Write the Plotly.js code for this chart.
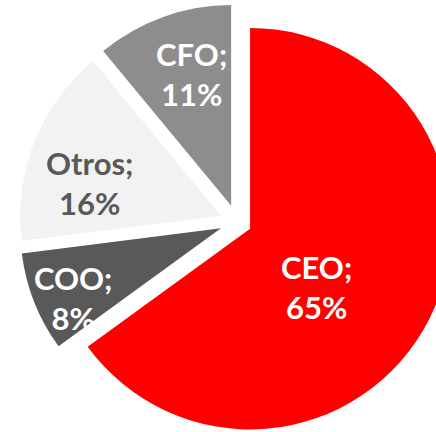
<!DOCTYPE html>
<html>
<head>
<meta charset="utf-8">
<script src="https://cdn.plot.ly/plotly-3.0.1.min.js"></script>
<style>
html, body { margin: 0; padding: 0; width: 436px; height: 432px; overflow: hidden; background: #fff; }
#chart { position: absolute; left: 19px; top: 4px; width: 436px; height: 436px; }
</style>
</head>
<body>
<div id="chart"></div>
<script>
// Data
var labels = ['CEO', 'COO', 'Otros', 'CFO'];
var values = [65, 8, 16, 11];

// Styles
var colors = ['#FF0000', '#595959', '#F2F2F2', '#8D8D8D'];
var textColors = ['#FFFFFF', '#FFFFFF', '#595959', '#FFFFFF'];
var pulls = [0.073, 0.086, 0.086, 0.086];
// label centres in window pixels
var labelPos = [[316, 287], [73, 298], [89, 183], [191, 74]];

var box = {left: 19, top: 4, w: 436, h: 436};
function toPaper(p) {
  return [(p[0] - box.left) / box.w, 1 - (p[1] - box.top) / box.h];
}

var annotations = labels.map(function (lab, i) {
  var p = toPaper(labelPos[i]);
  return {
    xref: 'paper', yref: 'paper', x: p[0], y: p[1],
    xanchor: 'center', yanchor: 'middle', showarrow: false,
    text: lab + ';<br>' + values[i] + '%',
    font: {family: 'Lato, "Open Sans", sans-serif', size: 31, color: textColors[i], weight: 'bold'}
  };
});

var trace = {
  type: 'pie',
  labels: labels,
  values: values,
  sort: false,
  direction: 'clockwise',
  rotation: 0,
  pull: pulls,
  textinfo: 'none',
  hoverinfo: 'label+percent',
  marker: {colors: colors, line: {width: 0}},
  domain: {x: [0, 1], y: [0, 1]}
};

var layout = {
  width: 436, height: 436,
  margin: {l: 0, r: 0, t: 0, b: 0},
  showlegend: false,
  paper_bgcolor: 'rgba(0,0,0,0)',
  plot_bgcolor: 'rgba(0,0,0,0)',
  annotations: annotations
};

Plotly.newPlot('chart', [trace], layout, {displayModeBar: false, staticPlot: true});
</script>
</body>
</html>
